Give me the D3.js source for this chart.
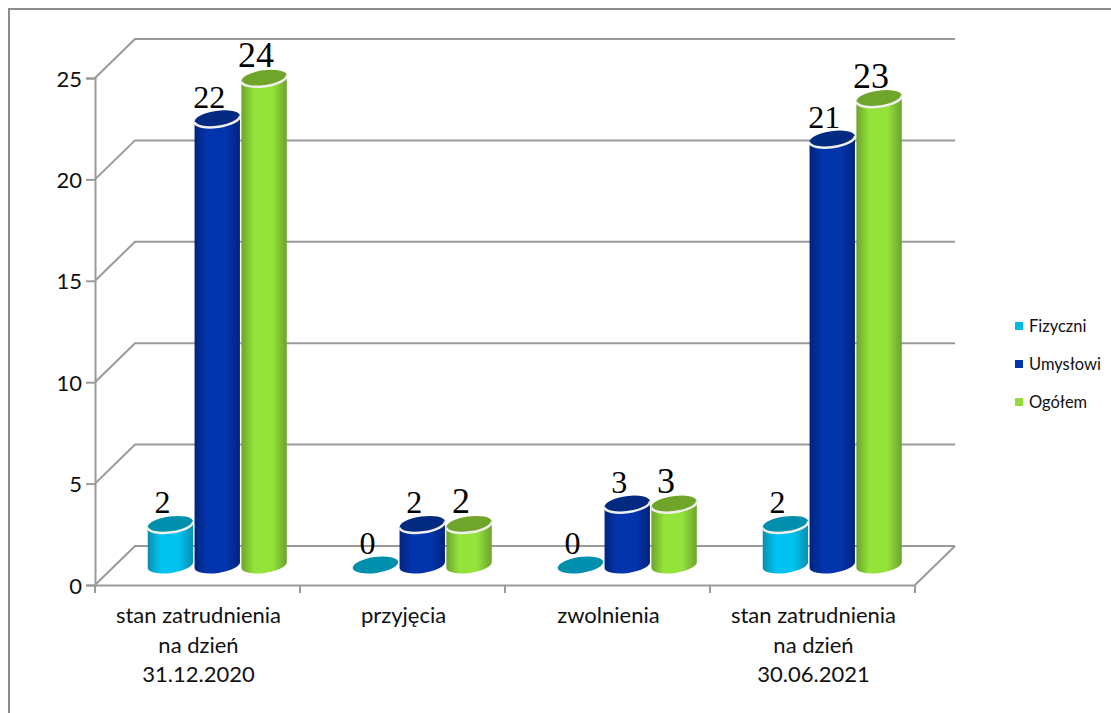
<!DOCTYPE html>
<html>
<head>
<meta charset="utf-8">
<script src="https://d3js.org/d3.v7.min.js"></script>
<style>
body { margin: 0; background: #fff; }
text { font-family: Lato, sans-serif; fill: #111; }
</style>
</head>
<body>
<svg id="chart" width="1111" height="713"></svg>
<script>
// chart values
const categories = ["stan zatrudnienia|na dzień|31.12.2020", "przyjęcia", "zwolnienia", "stan zatrudnienia|na dzień|30.06.2021"];
const seriesNames = ["Fizyczni", "Umysłowi", "Ogółem"];
const fizyczni = [2, 0, 0, 2];
const umyslowi = [22, 2, 3, 21];
const ogolem = [24, 2, 3, 23];
const yTicks = [0, 5, 10, 15, 20, 25];

const allSeries = [fizyczni, umyslowi, ogolem];

// colours per series: edge, middle, top of the cylinder
const colors = [
    {edge: "#0a8fae", mid: "#00c2f0", top: "#0090ae", key: "#00b8e8"},
    {edge: "#01237f", mid: "#0235ad", top: "#012a80", key: "#0235ad"},
    {edge: "#6ea32b", mid: "#93e33b", top: "#70a52c", key: "#93dc3a"}
];

const svg = d3.select("#chart");

// outer frame, only top and left are inside the picture
svg.append("path")
    .attr("d", d3.line()([[9, 713], [9, 9], [1111, 9]]))
    .attr("fill", "none").attr("stroke", "#8c8c8c").attr("stroke-width", 2);

const x = d3.scaleBand().domain(categories).range([95, 915]);
const y = d3.scaleLinear().domain([0, 25]).range([585, 78]);
const depthX = 40, depthY = -39;

// gradients
const defs = svg.append("defs");
colors.forEach((c, i) => {
    const g = defs.append("linearGradient").attr("id", "cyl" + i);
    g.append("stop").attr("offset", "0%").attr("stop-color", c.edge);
    g.append("stop").attr("offset", "28%").attr("stop-color", c.mid);
    g.append("stop").attr("offset", "68%").attr("stop-color", c.mid);
    g.append("stop").attr("offset", "100%").attr("stop-color", c.edge);
});

// 3d walls
const wallColor = "#9a9a9a";
const grid = svg.append("g").attr("fill", "none").attr("stroke", wallColor).attr("stroke-width", 2);
yTicks.forEach(t => {
    grid.append("path").attr("d", d3.line()([
        [x.range()[0], y(t)],
        [x.range()[0] + depthX, y(t) + depthY],
        [x.range()[1] + depthX, y(t) + depthY]
    ]));
});
grid.append("path").attr("d", d3.line()([
    [x.range()[1], y(0)],
    [x.range()[1] + depthX, y(0) + depthY]
]));

// axes
const yAxis = svg.append("g").attr("transform", "translate(95,0)")
    .call(d3.axisLeft(y).tickValues(yTicks).tickSize(9).tickPadding(4));
yAxis.selectAll("text").attr("font-size", 22).attr("y", 1);

const xAxis = svg.append("g").attr("transform", "translate(0,585)")
    .call(d3.axisBottom(x).tickSize(0).tickFormat(""));
svg.selectAll(".domain").attr("stroke", wallColor).attr("stroke-width", 2);
svg.selectAll(".tick line").attr("stroke", wallColor).attr("stroke-width", 2);

// category ticks at the band borders
const borders = categories.map(c => x(c)).concat([x.range()[1]]);
svg.append("g").selectAll("line").data(borders).join("line")
    .attr("x1", d => d).attr("x2", d => d)
    .attr("y1", y(0)).attr("y2", y(0) + 8)
    .attr("stroke", wallColor).attr("stroke-width", 2);

// category labels
categories.forEach(c => {
    const t = svg.append("text")
        .attr("text-anchor", "middle")
        .attr("font-size", 22)
        .attr("y", 623);
    c.split("|").forEach((line, i) => {
        t.append("tspan").attr("x", x(c) + x.bandwidth() / 2 + 1).attr("dy", i ? 29.5 : 0).text(line);
    });
});

// cylinders
const inner = d3.scaleBand().domain(d3.range(3)).range([52, 192.5]);
const tilt = -8, ry = 8;
const barLift = 20;
const labelLift = 31;
const rim = 2.5;

allSeries.forEach((values, s) => {
    values.forEach((v, i) => {
        const cx = x(categories[i]) + inner(s) + inner.bandwidth() / 2;
        const rx = inner.bandwidth() / 2 - 0.5;
        const yTop = y(v) - barLift;
        const yBase = y(0) - barLift;
        const dx = rx * Math.cos(tilt * Math.PI / 180);
        const dy = rx * Math.sin(tilt * Math.PI / 180);
        const g = svg.append("g");
        if (v > 0) {
            g.append("path")
                .attr("d", `M${cx - dx},${yTop - dy} L${cx - dx},${yBase - dy} A${rx},${ry} ${tilt} 0 0 ${cx + dx},${yBase + dy} L${cx + dx},${yTop + dy} Z`)
                .attr("fill", `url(#cyl${s})`);
        }
        g.append("ellipse")
            .attr("cx", cx).attr("cy", yTop)
            .attr("rx", rx).attr("ry", ry)
            .attr("transform", `rotate(${tilt} ${cx} ${yTop})`)
            .attr("fill", colors[s].top);
        if (v > 0) {
            // light rim only on the front of the top
            g.append("path")
                .attr("d", `M${cx - dx},${yTop - dy} A${rx},${ry} ${tilt} 0 0 ${cx + dx},${yTop + dy}`)
                .attr("fill", "none")
                .attr("stroke", "#f0f0ec")
                .attr("stroke-width", rim);
        }
    });
});

// value labels, serif like the source
allSeries.forEach((values, s) => {
    values.forEach((v, i) => {
        svg.append("text")
            .attr("x", x(categories[i]) + inner(s) + inner.bandwidth() / 2 - 8)
            .attr("y", y(v) - labelLift)
            .attr("text-anchor", "middle")
            .style("font-family", "'Liberation Serif', serif")
            .style("fill", "#000")
            .attr("font-size", s === 2 ? 36 : 32)
            .text(v);
    });
});

// legend
const legendY = d3.scalePoint().domain(seriesNames).range([326, 402]);
seriesNames.forEach((n, i) => {
    svg.append("rect")
        .attr("x", 1015).attr("y", legendY(n) - 4)
        .attr("width", 8).attr("height", 8)
        .attr("fill", colors[i].key);
    svg.append("text")
        .attr("x", 1029).attr("y", legendY(n) + 5.5)
        .attr("font-size", 16.5)
        .text(n);
});
</script>
</body>
</html>
